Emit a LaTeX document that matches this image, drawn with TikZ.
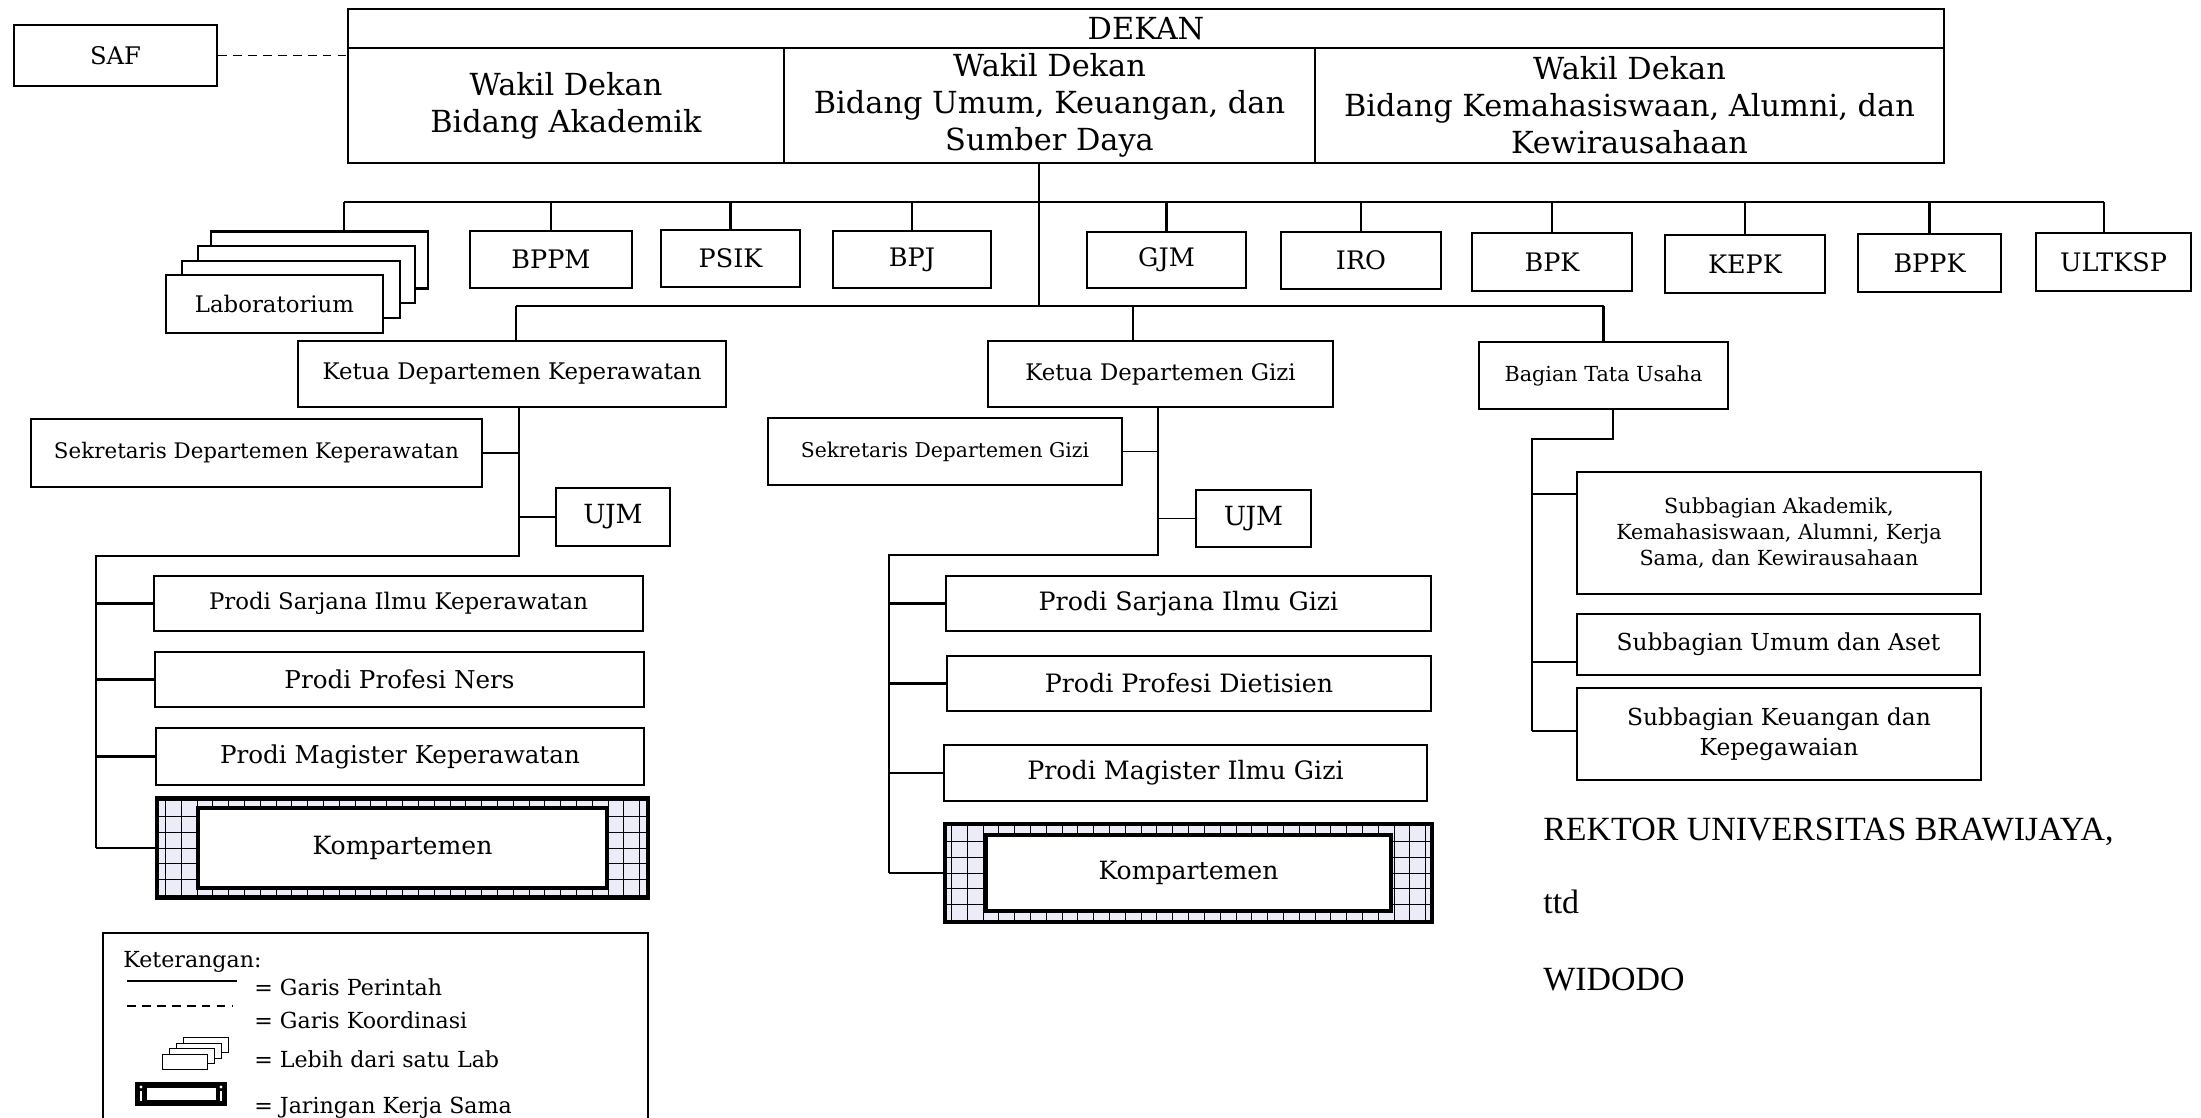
\documentclass[tikz,border=0pt]{standalone}
\usepackage{fontspec}
\setmainfont{DejaVu Serif}
\newfontfamily\timesfont{Liberation Serif}
\usepackage{tikz}
\usetikzlibrary{positioning,calc}
\definecolor{gridfill}{RGB}{236,236,248}
\tikzset{
  orgbox/.style={draw, line width=1.3pt, fill=white, align=center, inner sep=0pt},
  sz/.style 2 args={minimum width=#1*0.02cm, minimum height=#2*0.02cm},
  headbox/.style={draw, line width=0.9pt, align=center, inner sep=0pt, font=\fontsize{17.3}{21}\selectfont},
  unitbox/.style={orgbox, font=\fontsize{14.5}{17}\selectfont},
  deptbox/.style={orgbox, font=\fontsize{13}{16}\selectfont},
  prodibox/.style={orgbox, font=\fontsize{14}{17}\selectfont},
  giziprodi/.style={orgbox, font=\fontsize{14.4}{17}\selectfont},
  jaringan/.style={draw, line width=2pt, fill=gridfill, inner sep=0pt,
    path picture={\draw[line width=0.45pt] (path picture bounding box.south west) grid[step=9pt] (path picture bounding box.north east);}},
  jarinner/.style={draw, line width=2.6pt, fill=white, inner sep=0pt, font=\fontsize{14.3}{17}\selectfont},
  cmd/.style={line width=1.3pt},
  cmdthin/.style={line width=0.8pt},
  koord/.style={line width=0.7pt, dash pattern=on 5pt off 3.5pt},
  signtext/.style={anchor=base west, inner sep=0pt, font=\timesfont\fontsize{19.3}{23}\selectfont},
  legtext/.style={anchor=base west, inner sep=0pt, font=\fontsize{12.6}{15}\selectfont}
}

\begin{document}
\begin{tikzpicture}[x=0.02cm, y=-0.02cm]
\useasboundingbox (0,0) rectangle (2201,1118);

% pimpinan
\node[headbox, sz={1596}{39}] (dekan) at (1146,28.5) {DEKAN};
\node[headbox, sz={436}{115}] (wd1) at (566,105.5) {Wakil Dekan\\Bidang Akademik};
\node[headbox, sz={531}{115}] (wd2) at (1049.5,105.5) {Wakil Dekan\\Bidang Umum, Keuangan, dan\\Sumber Daya};
\node[headbox, sz={629}{115}] (wd3) at (1629.5,105.5) {Wakil Dekan\\Bidang Kemahasiswaan, Alumni, dan\\Kewirausahaan};
\node[orgbox, sz={203}{61}, font=\fontsize{13.8}{16}\selectfont] (saf) at (115.5,55.5) {SAF};
\draw[koord] (saf.east) -- (saf.east -| wd1.west);

% unit pendukung
\node[orgbox, sz={217}{57}] (lab1) at (319.5,260) {};
\node[orgbox, sz={217}{57}] (lab2) at (306.5,274.5) {};
\node[orgbox, sz={218}{57}] (lab3) at (291,289.5) {};
\node[orgbox, sz={217}{58}, font=\fontsize{13}{16}\selectfont] (lab) at (274.5,304) {Laboratorium};
\node[unitbox, sz={162}{57}] (bppm) at (551,259.5) {BPPM};
\node[unitbox, sz={139}{57}] (psik) at (730.5,258.5) {PSIK};
\node[unitbox, sz={158}{57}] (bpj) at (912,259.5) {BPJ};
\node[unitbox, sz={159}{56}] (gjm) at (1166.5,260) {GJM};
\node[unitbox, sz={160}{57}] (iro) at (1361,260.5) {IRO};
\node[unitbox, sz={160}{58}] (bpk) at (1552,262) {BPK};
\node[unitbox, sz={160}{58}] (kepk) at (1745,264) {KEPK};
\node[unitbox, sz={143}{58}] (bppk) at (1929.5,263) {BPPK};
\node[unitbox, sz={155}{58}] (ultksp) at (2113.5,262) {ULTKSP};

\coordinate (trunk) at (1039,163);
\coordinate (barL) at (344,202);
\coordinate (barR) at (2104,202);
\coordinate (barK) at (516,306);
\coordinate (barG) at (1133,306);
\coordinate (barT) at (1603.5,306);
\draw[cmd] (trunk) -- (trunk |- barK);
\draw[cmd] (barL) -- (barR);
\draw[cmd] (barK) -- (barT);
\draw[cmd] (barL) -- (barL |- lab1.north);
\draw[cmd] (barR) -- (barR |- ultksp.north);
\foreach \u in {bppm,psik,bpj,gjm,iro,bpk,kepk,bppk}
  \draw[cmd] (\u.north) -- (\u.north |- barL);

% departemen
\node[deptbox, sz={428}{66}] (kkep) at (512,374) {Ketua Departemen Keperawatan};
\node[deptbox, sz={345}{66}] (kgizi) at (1160.5,374) {Ketua Departemen Gizi};
\node[orgbox, sz={249}{67}, font=\fontsize{11.8}{14}\selectfont] (btu) at (1603.5,375.5) {Bagian Tata Usaha};
\draw[cmd] (barK) -- (barK |- kkep.north);
\draw[cmd] (barG) -- (barG |- kgizi.north);
\draw[cmd] (barT) -- (btu.north);

% keperawatan
\node[orgbox, sz={451}{68}, font=\fontsize{12.2}{15}\selectfont] (sekk) at (256.5,453) {Sekretaris Departemen Keperawatan};
\node[orgbox, sz={114}{58}, font=\fontsize{15}{18}\selectfont] (ujmk) at (613,517) {UJM};
\node[orgbox, sz={489}{55}, font=\fontsize{13}{16}\selectfont] (psk) at (398.5,603.5) {Prodi Sarjana Ilmu Keperawatan};
\node[prodibox, sz={489}{55}] (pnk) at (399.5,679.5) {Prodi Profesi Ners};
\node[prodibox, sz={488}{57}] (pmk) at (400,756.5) {Prodi Magister Keperawatan};
\node[jaringan, sz={491}{100}] (kompk) at (402.5,848) {};
\node[jarinner, sz={409}{80}] (kompkin) at (kompk) {Kompartemen};

\coordinate (kepA) at (519,556);
\coordinate (kepB) at (96,556);
\draw[cmd] (kepA |- kkep.south) -- (kepA) -- (kepB) -- (kepB |- kompk.west);
\draw[cmdthin] (sekk.east) -- (sekk.east -| kepA);
\draw[cmdthin] (ujmk.west) -- (ujmk.west -| kepA);
\foreach \p in {psk,pnk,pmk,kompk}
  \draw[cmd] (\p.west) -- (\p.west -| kepB);

% gizi
\node[orgbox, sz={354}{67}, font=\fontsize{11.6}{14}\selectfont] (sekg) at (945,451.5) {Sekretaris Departemen Gizi};
\node[orgbox, sz={115}{57}, font=\fontsize{15}{18}\selectfont] (ujmg) at (1253.5,518.5) {UJM};
\node[giziprodi, sz={485}{55}] (psg) at (1188.5,603.5) {Prodi Sarjana Ilmu Gizi};
\node[giziprodi, sz={484}{55}] (ppg) at (1189,683.5) {Prodi Profesi Dietisien};
\node[giziprodi, sz={483}{56}] (pmg) at (1185.5,773) {Prodi Magister Ilmu Gizi};
\node[jaringan, sz={487}{98}] (kompg) at (1188.5,873) {};
\node[jarinner, sz={405}{76}] (kompgin) at (kompg) {Kompartemen};

\coordinate (gzA) at (1158,555);
\coordinate (gzB) at (889,555);
\draw[cmd] (gzA |- kgizi.south) -- (gzA) -- (gzB) -- (gzB |- kompg.west);
\draw[cmdthin] (sekg.east) -- (sekg.east -| gzA);
\draw[cmdthin] (ujmg.west) -- (ujmg.west -| gzA);
\foreach \p in {psg,ppg,pmg,kompg}
  \draw[cmd] (\p.west) -- (\p.west -| gzB);

% tata usaha
\node[orgbox, sz={404}{122}, font=\fontsize{11.8}{14.8}\selectfont] (suba) at (1779,533) {Subbagian Akademik,\\Kemahasiswaan, Alumni, Kerja\\Sama, dan Kewirausahaan};
\node[orgbox, sz={403}{61}, font=\fontsize{13.3}{16}\selectfont] (subu) at (1778.5,644.5) {Subbagian Umum dan Aset};
\node[orgbox, sz={404}{92}, font=\fontsize{13.3}{17}\selectfont] (subk) at (1779,734) {Subbagian Keuangan dan\\Kepegawaian};

\coordinate (tuA) at (1613,439);
\coordinate (tuB) at (1532,439);
\coordinate (tu1) at (1532,494);
\coordinate (tu2) at (1532,662);
\coordinate (tu3) at (1532,731);
\draw[cmd] (tuA |- btu.south) -- (tuA) -- (tuB) -- (tu3);
\draw[cmd] (tu1) -- (tu1 -| suba.west);
\draw[cmd] (tu2) -- (tu2 -| subu.west);
\draw[cmd] (tu3) -- (tu3 -| subk.west);

% pengesahan
\node[signtext] (rektor) at (1543,840) {REKTOR UNIVERSITAS BRAWIJAYA,};
\node[signtext] (ttd) at (1543,913) {ttd};
\node[signtext] (widodo) at (1543,990) {WIDODO};

% keterangan
\node[draw, line width=1.1pt, sz={545}{220}, anchor=north west] (legend) at (102,932) {};
\node[legtext] (ket) at (123,967) {Keterangan:};
\coordinate (l1a) at (127,981);
\coordinate (l1b) at (237,981);
\draw[line width=0.6pt] (l1a) -- (l1b);
\node[legtext] (lg1) at (254,995) {= Garis Perintah};
\coordinate (l2a) at (127,1006);
\coordinate (l2b) at (233,1006);
\draw[koord, line width=0.6pt] (l2a) -- (l2b);
\node[legtext] (lg2) at (254,1028) {= Garis Koordinasi};
\foreach \i in {3,2,1,0}
  \node[draw, line width=0.5pt, fill=white, sz={45}{15}] (ic\i) at (184.5+7*\i,1061.5-5.5*\i) {};
\node[legtext] (lg3) at (254,1067) {= Lebih dari satu Lab};
\node[fill=black, sz={92}{24}] (icj) at (181,1094) {};
\node[fill=white, sz={69}{9}] (icjin) at (icj) {};
\draw[white, line width=0.8pt] (141,1091) -- (141,1101) (221,1091) -- (221,1101);
\fill[white] (141,1087) circle (1.6) (221,1087) circle (1.6);
\node[legtext] (lg4) at (254,1113) {= Jaringan Kerja Sama};
\end{tikzpicture}
\end{document}
